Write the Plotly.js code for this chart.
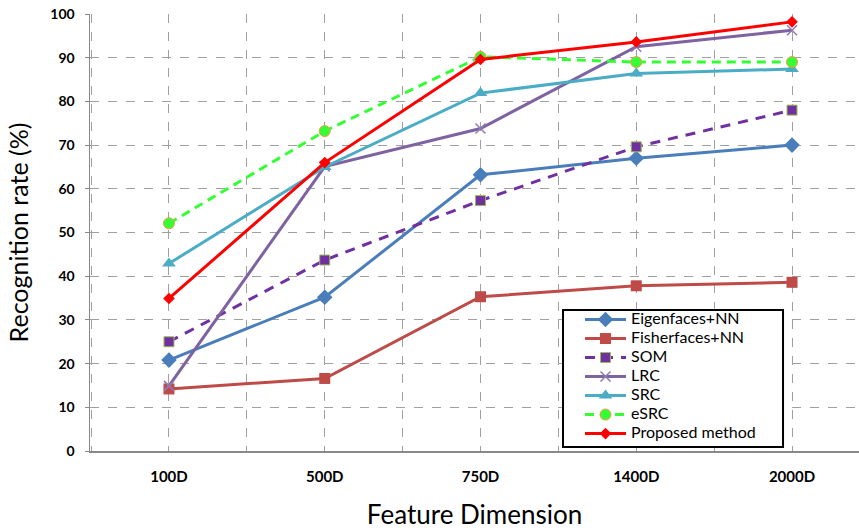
<!DOCTYPE html>
<html>
<head>
<meta charset="utf-8">
<script src="https://cdn.plot.ly/plotly-3.0.1.min.js"></script>
<style>
html,body{margin:0;padding:0;background:#fff}
#chart{width:859px;height:530px}
#chart .legend .legendtext{font-size:16px !important;font-family:Lato,"Open Sans",sans-serif !important}
#chart .legend .scrollbox{clip-path:none !important}
</style>
</head>
<body>
<div id="chart"></div>
<script>
var categories = ["100D", "500D", "750D", "1400D", "2000D"];
var eigenfaces = [20.8, 35.2, 63.2, 67.0, 70.0];
var fisherfaces = [14.2, 16.6, 35.3, 37.8, 38.6];
var som = [25.0, 43.7, 57.3, 69.6, 78.0];
var lrc = [14.9, 65.1, 73.8, 92.5, 96.3];
var src = [42.9, 65.0, 81.9, 86.4, 87.4];
var esrc = [52.1, 73.2, 90.2, 89.0, 89.0];
var proposed = [34.9, 66.0, 89.6, 93.6, 98.2];
var yTicks = [0, 10, 20, 30, 40, 50, 60, 70, 80, 90, 100];

var xi = categories.map(function(_, i){ return i; });

function tr(name, y, color, dash, sym, msize, mcolor, mline, mlw) {
  return {
    x: xi, y: y, name: name, type: 'scatter', mode: 'lines+markers',
    line: {color: color, width: 3, dash: dash},
    marker: {symbol: sym, size: msize, color: mcolor, line: {color: mline, width: mlw}}
  };
}

var data = [
  tr('Eigenfaces+NN', eigenfaces, '#4A7EBB', 'solid', 'diamond', 12, '#4A7EBB', '#4A7EBB', 0),
  tr('Fisherfaces+NN', fisherfaces, '#BE4B48', 'solid', 'square', 11, '#BE4B48', '#BE4B48', 0),
  tr('SOM', som, '#7030A0', '10px,8px', 'square', 10, '#7030A0', '#9BBB59', 1),
  tr('LRC', lrc, '#7F62A0', 'solid', 'x-thin', 10, '#7F62A0', '#8F7AB5', 1.5),
  tr('SRC', src, '#4BACC6', 'solid', 'triangle-up', 12, '#4BACC6', '#4BACC6', 0),
  tr('eSRC', esrc, '#33FF33', '9px,6px', 'circle', 11, '#33FF33', '#F79646', 1),
  tr('Proposed method', proposed, '#FF0000', 'solid', 'diamond', 9, '#FF0000', '#FF0000', 0)
];

var fam = 'Lato, "Open Sans", sans-serif';

var layout = {
  width: 859, height: 530,
  margin: {l: 90, r: 0, t: 14, b: 79},
  paper_bgcolor: '#fff', plot_bgcolor: '#fff',
  showlegend: true,
  legend: {
    x: 0.6372, y: 0.334, xanchor: 'left', yanchor: 'top',
    bgcolor: 'rgba(0,0,0,0)', borderwidth: 0,
    font: {family: fam, size: 12.3, color: '#000'},
    tracegroupgap: 0, itemwidth: 41
  },
  shapes: [{
    type: 'rect', xref: 'paper', yref: 'paper', layer: 'above',
    x0: 0.6151, x1: 0.9012, y0: 0.00915, y1: 0.3227,
    fillcolor: '#fff', line: {color: '#000', width: 2}
  }],
  xaxis: {
    range: [-0.507, 4.43],
    tickmode: 'array', tickvals: xi, ticktext: categories,
    showgrid: true, gridcolor: '#A0A0A0', griddash: 'dash', gridwidth: 1,
    minor: {tickmode: 'array', tickvals: [-0.5, 0.5, 1.5, 2.5, 3.5], showgrid: true, gridcolor: '#A0A0A0', griddash: 'dash', gridwidth: 1, ticks: ''},
    showline: true, linecolor: '#888', linewidth: 1.5,
    zeroline: false, ticks: '',
    ticklabelstandoff: 11,
    tickfont: {family: fam, size: 15, color: '#000', weight: 'bold'},
    title: {text: 'Feature Dimension', font: {family: fam, size: 26, color: '#000'}, standoff: 22}
  },
  yaxis: {
    range: [0, 100],
    tickmode: 'array', tickvals: yTicks,
    showgrid: true, gridcolor: '#A0A0A0', griddash: 'dash', gridwidth: 1,
    showline: true, linecolor: '#888', linewidth: 1.5,
    zeroline: false, ticks: 'outside', ticklen: 4, tickcolor: '#888',
    ticklabelstandoff: 7,
    tickfont: {family: fam, size: 14, color: '#000', weight: 'bold'},
    title: {text: 'Recognition rate (%)', font: {family: fam, size: 25, color: '#000'}, standoff: 14}
  }
};

Plotly.newPlot('chart', data, layout, {displayModeBar: false, staticPlot: true});
</script>
</body>
</html>
